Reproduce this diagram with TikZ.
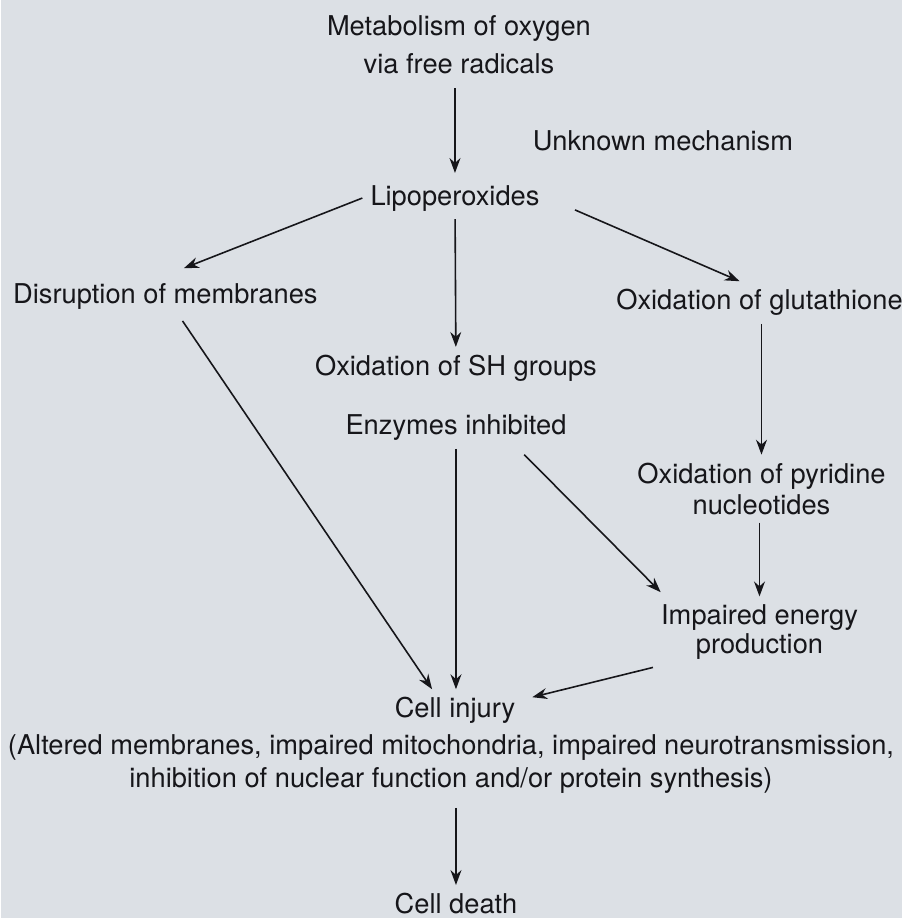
\documentclass[tikz,border=0pt]{standalone}
\usepackage{fontspec}
\setmainfont{TeX Gyre Heros}
\usetikzlibrary{arrows.meta}

\definecolor{paper}{RGB}{220,224,229}
\definecolor{ink}{RGB}{22,22,26}

\tikzset{
	label/.style={font=\fontsize{27.4}{35}\selectfont, text=ink, inner sep=8pt, align=center},
	flow/.style={->, draw=ink, line width=1.6pt, >={Stealth[length=15pt,width=11pt]}}
}

\begin{document}
\begin{tikzpicture}[x=1pt, y=-1pt]
	\fill[paper] (0,0) rectangle (905,922);

	\draw node[label, font=\fontsize{27.4}{38}\selectfont] at (460, 45) (meta) {Metabolism of oxygen\\via free radicals};
	\draw node[label] at (665, 141) (unknown) {Unknown mechanism};
	\draw node[label] at (456, 199) (lipo) {Lipoperoxides};
	\draw node[label] at (165, 298) (disr) {Disruption of membranes};
	\draw node[label] at (762, 304) (glut) {Oxidation of glutathione};
	\draw node[label] at (457, 370) (sh) {Oxidation of SH groups};
	\draw node[label] at (457, 430) (enz) {Enzymes inhibited};
	\draw node[label, font=\fontsize{27.4}{31}\selectfont] at (764, 491) (pyr) {Oxidation of pyridine\\nucleotides};
	\draw node[label, font=\fontsize{27.4}{29}\selectfont] at (762, 635) (imp) {Impaired energy\\production};
	\draw node[label] at (456, 714) (inj) {Cell injury};
	\draw node[label, font=\fontsize{27.4}{33}\selectfont] at (452, 768) (alt) {(Altered membranes, impaired mitochondria, impaired neurotransmission,\\inhibition of nuclear function and/or protein synthesis)};
	\draw node[label] at (457, 908) (death) {Cell death};

	\draw [flow, shorten <=6pt, shorten >=4pt] (meta.south -| lipo) -- (lipo);
	\draw [flow, shorten >=20pt] (lipo.west) -- (disr.north);
	\draw [flow, shorten <=30pt] (lipo.east) -- ([xshift=-20pt]glut.north);
	\draw [flow] (lipo) -- (sh);
	\draw [flow, shorten <=4pt] ([xshift=15pt]disr.south) -- ([xshift=-23pt]inj.north);
	\draw [flow] (enz) -- (enz |- inj.north);
	\draw [flow, shorten <=8pt, shorten >=6pt] ([xshift=63pt]enz.south) -- ([xshift=12pt]imp.north west);
	\draw [flow] (glut.south -| pyr) -- (pyr);
	\draw [flow] (pyr.south -| imp) -- (imp);
	\draw [flow] (imp.south west) -- ([xshift=9pt,yshift=-8pt]inj.north east);
	\draw [flow, shorten <=6pt] (alt.south -| death) -- (death);
\end{tikzpicture}
\end{document}
